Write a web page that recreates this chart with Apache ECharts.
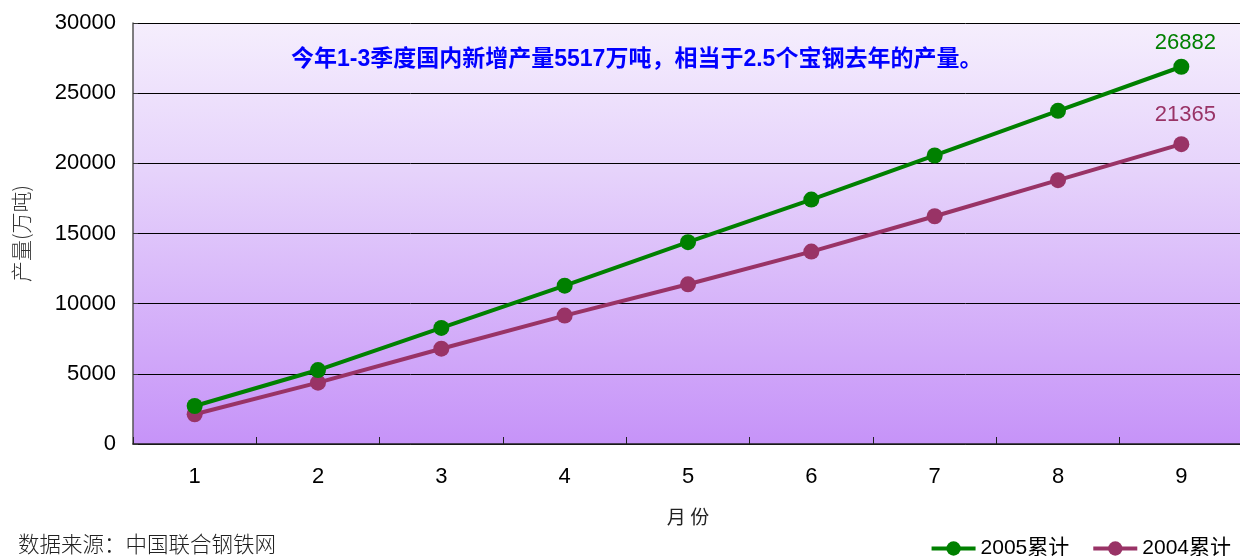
<!DOCTYPE html>
<html>
<head>
<meta charset="utf-8">
<script src="https://cdn.jsdelivr.net/npm/echarts@6/dist/echarts.min.js"></script>
<style>
html,body{margin:0;padding:0;background:#fff;overflow:hidden;width:1240px;height:556px;}
#c{width:1244px;height:556px;}
</style>
</head>
<body>
<div id="c"></div>
<script>
var months = ['1','2','3','4','5','6','7','8','9'];
var s2005 = [2710, 5270, 8270, 11280, 14380, 17420, 20560, 23740, 26882];
var s2004 = [2120, 4370, 6790, 9150, 11380, 13710, 16230, 18800, 21365];
var yTicks = [0, 5000, 10000, 15000, 20000, 25000, 30000];
var seriesNames = ['2005累计', '2004累计'];
var titleText = '今年1-3季度国内新增产量5517万吨，相当于2.5个宝钢去年的产量。';
var sourceText = '数据来源：中国联合钢铁网';

var FONT = '"Liberation Sans", Arial, "Noto Sans CJK SC", sans-serif';

function withEndLabel(arr, color, dist) {
  return arr.map(function (v, i) {
    if (i === arr.length - 1) {
      return { value: v, label: { show: true, position: 'top', distance: dist, color: color,
        fontSize: 22, fontFamily: FONT, offset: [4, 0] } };
    }
    return v;
  });
}

var chart = echarts.init(document.getElementById('c'), null, { renderer: 'canvas' });
chart.setOption({
  animation: false,
  backgroundColor: '#ffffff',
  grid: {
    left: 133, top: 23, width: 1110, bottom: 112,
    show: true, borderWidth: 0,
    backgroundColor: new echarts.graphic.LinearGradient(0, 0, 0, 1, [
      { offset: 0, color: '#f5eefd' },
      { offset: 0.35, color: '#e6d3fb' },
      { offset: 1, color: '#c693f8' }
    ])
  },
  xAxis: {
    type: 'category',
    data: months,
    boundaryGap: true,
    name: '月 份',
    nameLocation: 'middle',
    nameGap: 63,
    nameTextStyle: { fontSize: 19, color: '#222', fontFamily: '"Noto Sans CJK SC", sans-serif' },
    axisLine: { show: true, lineStyle: { color: '#222', width: 1.5 } },
    axisTick: { show: true, inside: true, length: 7, alignWithLabel: false, lineStyle: { color: '#222' } },
    axisLabel: { fontSize: 22, color: '#000', margin: 22, fontFamily: FONT },
    splitLine: { show: false }
  },
  yAxis: {
    type: 'value',
    min: 0, max: 30000, interval: 5000,
    name: '产量(万吨)',
    nameLocation: 'middle',
    nameRotate: 90,
    nameGap: 101,
    nameTextStyle: { fontSize: 21, color: '#333', fontFamily: '"Noto Sans CJK SC", sans-serif', fontWeight: 300 },
    axisLine: { show: true, lineStyle: { color: '#555', width: 1.5 } },
    axisTick: { show: true, inside: true, length: 5, lineStyle: { color: '#333' } },
    axisLabel: { fontSize: 22, color: '#000', margin: 17, fontFamily: FONT,
      formatter: function (v) { return yTicks.indexOf(v) >= 0 ? String(v) : ''; } },
    splitLine: { show: true, lineStyle: { color: '#000', width: 1 } }
  },
  legend: {
    data: seriesNames,
    right: 8, bottom: -8,
    itemWidth: 44, itemHeight: 18, itemGap: 22,
    lineStyle: { width: 4 },
    textStyle: { fontSize: 21, color: '#000', fontFamily: FONT }
  },
  graphic: [
    { type: 'text', left: 291, top: 48, z: 100,
      style: { text: titleText, fill: '#0000ff', font: 'bold 23px "Liberation Sans", Arial, "Noto Sans CJK SC", sans-serif' } },
    { type: 'text', left: 18, top: 533,
      style: { text: sourceText, fill: '#222', font: '300 21.5px "Noto Sans CJK SC", sans-serif' } }
  ],
  series: [
    { name: seriesNames[0], type: 'line', data: withEndLabel(s2005, '#008000', 5),
      symbol: 'circle', symbolSize: 16,
      lineStyle: { color: '#008000', width: 4 },
      itemStyle: { color: '#008000' }, z: 3 },
    { name: seriesNames[1], type: 'line', data: withEndLabel(s2004, '#993366', 10),
      symbol: 'circle', symbolSize: 16,
      lineStyle: { color: '#993366', width: 4 },
      itemStyle: { color: '#993366' }, z: 2 }
  ]
});
</script>
</body>
</html>
